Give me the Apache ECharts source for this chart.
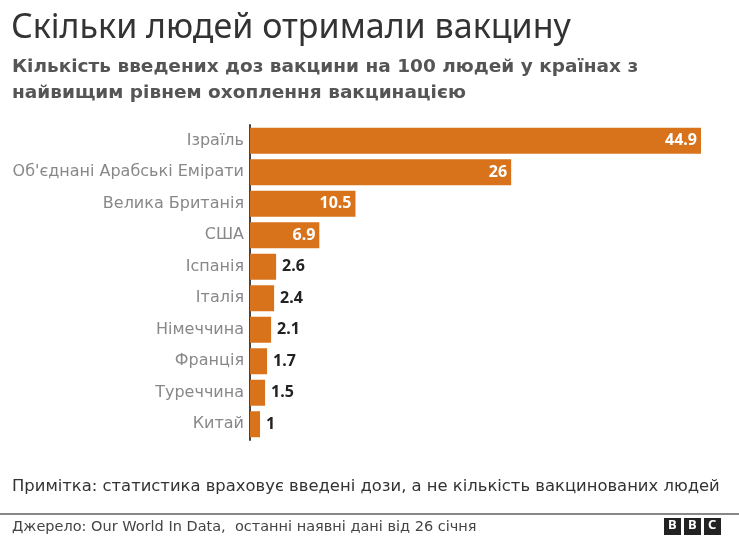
<!DOCTYPE html>
<html>
<head>
<meta charset="utf-8">
<script src="https://cdn.jsdelivr.net/npm/echarts@6/dist/echarts.min.js"></script>
<style>
  html, body { margin: 0; padding: 0; background: #fff; }
  #chart { width: 739px; height: 538px; }
</style>
</head>
<body>
<div id="chart"></div>
<script>
  // країни, зверху вниз
  var countries = ['Ізраїль', "Об'єднані Арабські Емірати", 'Велика Британія', 'США', 'Іспанія',
                   'Італія', 'Німеччина', 'Франція', 'Туреччина', 'Китай'];
  var doses = [44.9, 26, 10.5, 6.9, 2.6, 2.4, 2.1, 1.7, 1.5, 1];

  var barColor = '#d8731b';
  var font = 'Noto Sans';
  var wide = 'DejaVu Sans';

  var chart = echarts.init(document.getElementById('chart'));

  var data = doses.map(function (v) {
    var inside = v > 5;
    return {
      value: v,
      label: {
        position: inside ? 'insideRight' : 'right',
        color: inside ? '#fff' : '#222',
        distance: inside ? 4 : 6
      }
    };
  });

  var option = {
    backgroundColor: '#fff',
    animation: false,
    title: [
      {
        text: 'Скільки людей отримали вакцину',
        left: 11, top: 11, padding: 0,
        textStyle: { fontFamily: font, fontSize: 34, fontWeight: 'normal', color: '#333' }
      },
      {
        text: 'Кількість введених доз вакцини на 100 людей у країнах з\nнайвищим рівнем охоплення вакцинацією',
        left: 12, top: 54, padding: 0,
        textStyle: { fontFamily: wide, fontSize: 18.5, fontWeight: 'bold', color: '#555', lineHeight: 26 }
      },
      {
        text: 'Примітка: статистика враховує введені дози, а не кількість вакцинованих людей',
        left: 12, top: 479, padding: 0,
        textStyle: { fontFamily: wide, fontSize: 16.4, fontWeight: 'normal', color: '#333' }
      },
      {
        text: 'Джерело: Our World In Data,  останні наявні дані від 26 січня',
        left: 12, top: 520, padding: 0,
        textStyle: { fontFamily: wide, fontSize: 14.5, fontWeight: 'normal', color: '#444' }
      }
    ],
    grid: { left: 250, right: 37, top: 125, bottom: 98 },
    xAxis: {
      type: 'value',
      min: 0,
      max: 45,
      show: false
    },
    yAxis: {
      type: 'category',
      inverse: true,
      data: countries,
      axisLine: { show: true, lineStyle: { color: '#444', width: 2 } },
      axisTick: { show: false },
      axisLabel: { fontFamily: wide, fontSize: 16, color: '#888', margin: 6 }
    },
    series: [{
      type: 'bar',
      data: data,
      barWidth: 26,
      itemStyle: { color: barColor },
      label: {
        show: true,
        fontFamily: font,
        fontSize: 16,
        fontWeight: 'bold'
      }
    }],
    graphic: [
      { type: 'line', shape: { x1: 0, y1: 514, x2: 739, y2: 514 }, style: { stroke: '#888', lineWidth: 2 } },
      { type: 'rect', shape: { x: 664, y: 518, width: 17, height: 17 }, style: { fill: '#222' } },
      { type: 'rect', shape: { x: 684, y: 518, width: 17, height: 17 }, style: { fill: '#222' } },
      { type: 'rect', shape: { x: 704, y: 518, width: 17, height: 17 }, style: { fill: '#222' } },
      { type: 'text', left: 668, top: 519, style: { text: 'B', fill: '#fff', font: 'bold 13px "Noto Sans"' } },
      { type: 'text', left: 688, top: 519, style: { text: 'B', fill: '#fff', font: 'bold 13px "Noto Sans"' } },
      { type: 'text', left: 708, top: 519, style: { text: 'C', fill: '#fff', font: 'bold 13px "Noto Sans"' } }
    ]
  };

  chart.setOption(option);
</script>
</body>
</html>
